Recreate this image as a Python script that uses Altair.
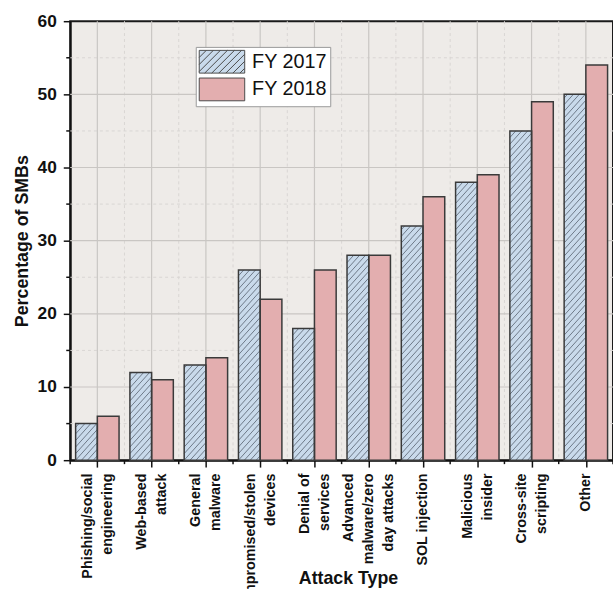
import altair as alt
import pandas as pd

# Attack types (| marks a line break in the axis label)
categories = [
    "Phishing/social|engineering",
    "Web-based|attack",
    "General|malware",
    "Compromised/stolen|devices",
    "Denial of|services",
    "Advanced|malware/zero|day attacks",
    "SOL injection",
    "Malicious|insider",
    "Cross-site|scripting",
    "Other",
]
series = ["FY 2017", "FY 2018"]
fy2017 = [5, 12, 13, 26, 18, 28, 32, 38, 45, 50]
fy2018 = [6, 11, 14, 22, 26, 28, 36, 39, 49, 54]

y_major = [10, 20, 30, 40, 50]
y_minor = [5, 15, 25, 35, 45, 55]

positions = list(range(1, len(categories) + 1))
x_minor = [p - 0.5 for p in positions] + [len(categories) + 0.5]

BLUE = "#C9DAEB"
PINK = "#E3AEAF"
EDGE = "#3a3a3a"
FONT = "Liberation Sans"
BAR_W = 0.4          # bar width in category units
HATCH_STEP = 0.9     # vertical spacing of hatch lines (percent units)
HATCH_RISE = 3.3     # rise of one hatch line across a bar (percent units)
LINE_H = 20          # line height of the wrapped category labels

rows = []
for i, cat in enumerate(categories):
    rows.append({"pos": positions[i], "series": series[0], "value": fy2017[i]})
    rows.append({"pos": positions[i], "series": series[1], "value": fy2018[i]})
bars_df = pd.DataFrame(rows)

# Legend symbols: a 2:1 rectangle (x from -1 to 3, y from -1 to 1), plain or hatched
RECT = "M-1,-1H3V1H-1Z"


def hatched_rect(step=0.62):
    parts = [RECT]
    c = -3.0
    while c < 3.0:
        x0 = max(c, -1.0)
        x1 = min(c + 2.0, 3.0)
        if x1 > x0:
            y0 = 1.0 - (x0 - c)
            y1 = 1.0 - (x1 - c)
            parts.append(f"M{x0:.3f},{y0:.3f}L{x1:.3f},{y1:.3f}")
        c += step
    return "".join(parts)


x_scale = alt.Scale(domain=[0.5, 10.5], nice=False, zero=False)
y_scale = alt.Scale(domain=[0, 60], nice=False)

label_array = "[" + ",".join(f"'{c}'" for c in categories) + "]"

# centre wrapped labels on their tick
offset_tests = []
for p, c in zip(positions, categories):
    n = c.count("|")
    if n:
        offset_tests.append({"test": f"datum.value == {p}", "value": -n * LINE_H / 2})

x_axis = alt.Axis(
    values=positions,
    labelExpr=f"split({label_array}[datum.value - 1], '|')",
    labelAngle=270,
    labelFont=FONT, labelFontSize=14.5, labelFontWeight="bold", labelColor="#111",
    labelLineHeight=LINE_H, labelPadding=6, labelFlush=False, labelOverlap=False, labelBound=False,
    labelOffset={"condition": offset_tests, "value": 0},
    tickSize=7, tickWidth=1.5, tickColor="#111",
    domainColor="#111", domainWidth=2,
    grid=False,
    title="Attack Type", titleFont=FONT, titleFontSize=18, titleFontWeight="bold", titleColor="#111",
    titleX=281, titleY=125, titleBaseline="alphabetic",
)
y_axis = alt.Axis(
    values=[0, 10, 20, 30, 40, 50, 60],
    labelFont=FONT, labelFontSize=17.5, labelFontWeight="bold", labelColor="#111", labelPadding=7,
    tickSize=7, tickWidth=1.5, tickColor="#111",
    domainColor="#111", domainWidth=2,
    grid=False,
    title="Percentage of SMBs", titleFont=FONT, titleFontSize=18, titleFontWeight="bold",
    titleColor="#111", titlePadding=6,
)

legend = alt.Legend(
    title=None, orient="none", legendX=127, legendY=26,
    padding=3, rowPadding=0, labelOffset=30,
    labelFont=FONT, labelFontSize=20, labelFontWeight="normal", labelColor="#111",
    fillColor="white", strokeColor="#9a9a9a",
    symbolSize=529, symbolOpacity=1, symbolStrokeWidth=1,
)
fill_scale = alt.Scale(domain=series, range=[BLUE, PINK])

# Grid lines
h_major = alt.Chart(pd.DataFrame({"v": y_major})).mark_rule(color="#C9C6C3", strokeWidth=1.2).encode(
    y=alt.Y("v:Q", scale=y_scale, axis=y_axis))
h_minor = alt.Chart(pd.DataFrame({"v": y_minor})).mark_rule(
    color="#D9D6D3", strokeWidth=1, strokeDash=[3, 3]).encode(y=alt.Y("v:Q", scale=y_scale))
v_major = alt.Chart(pd.DataFrame({"p": positions})).mark_rule(color="#C9C6C3", strokeWidth=1.2).encode(
    x=alt.X("p:Q", scale=x_scale, axis=x_axis))
v_minor = alt.Chart(pd.DataFrame({"p": x_minor[1:-1]})).mark_rule(
    color="#D9D6D3", strokeWidth=1, strokeDash=[3, 3]).encode(x=alt.X("p:Q", scale=x_scale))

# Minor ticks on both axes
y_ticks = alt.Chart(pd.DataFrame({"v": y_minor})).mark_rule(
    color="#111", strokeWidth=1.5, x2Offset=-4).encode(
    y=alt.Y("v:Q", scale=y_scale), x=alt.datum(0.5, scale=x_scale), x2=alt.datum(0.5))
x_ticks = alt.Chart(pd.DataFrame({"p": x_minor})).mark_rule(
    color="#111", strokeWidth=1.5, y2Offset=4).encode(
    x=alt.X("p:Q", scale=x_scale), y=alt.datum(0, scale=y_scale), y2=alt.datum(0))

base = alt.Chart(bars_df).transform_calculate(
    x0=f"datum.series == '{series[0]}' ? datum.pos - {BAR_W} : datum.pos",
    x1=f"datum.series == '{series[0]}' ? datum.pos : datum.pos + {BAR_W}",
)

bars = base.mark_rect().encode(
    x=alt.X("x0:Q", scale=x_scale),
    x2="x1:Q",
    y=alt.Y("value:Q", scale=y_scale),
    y2=alt.datum(0),
    fill=alt.Fill("series:N", scale=fill_scale, legend=legend),
)

# Diagonal hatching over the FY 2017 bars, clipped to each bar
hatch = alt.Chart(bars_df).transform_filter(
    alt.datum.series == series[0]
).transform_calculate(
    k=f"sequence(-5, ceil(datum.value / {HATCH_STEP}) + 1)"
).transform_flatten(["k"]).transform_calculate(
    y0=f"datum.k * {HATCH_STEP}"
).transform_calculate(
    ys="max(datum.y0, 0)",
    ye=f"min(datum.y0 + {HATCH_RISE}, datum.value)",
).transform_filter("datum.ys < datum.ye").transform_calculate(
    hx0=f"datum.pos - {BAR_W} + (datum.ys - datum.y0) / {HATCH_RISE} * {BAR_W}",
    hx1=f"datum.pos - {BAR_W} + (datum.ye - datum.y0) / {HATCH_RISE} * {BAR_W}",
).mark_rule(color="#56606e", strokeWidth=0.8).encode(
    x=alt.X("hx0:Q", scale=x_scale), x2="hx1:Q",
    y=alt.Y("ys:Q", scale=y_scale), y2="ye:Q",
)

outlines = base.mark_rect(fillOpacity=0, stroke=EDGE, strokeWidth=1.5).encode(
    x=alt.X("x0:Q", scale=x_scale),
    x2="x1:Q",
    y=alt.Y("value:Q", scale=y_scale),
    y2=alt.datum(0),
)

# invisible points that carry the legend symbols
legend_layer = alt.Chart(bars_df).mark_point(filled=True, opacity=0, size=529).encode(
    x=alt.X("pos:Q", scale=x_scale),
    y=alt.Y("value:Q", scale=y_scale),
    fill=alt.Fill("series:N", scale=fill_scale, legend=legend),
    shape=alt.Shape("series:N", scale=alt.Scale(domain=series, range=[hatched_rect(), RECT]),
                    legend=legend),
    stroke=alt.value("#4a4a4a"),
)

chart = alt.layer(
    h_minor, v_minor, h_major, v_major, bars, hatch, outlines, legend_layer, y_ticks, x_ticks
).properties(
    width=549, height=444,
    autosize=alt.AutoSizeParams(type="none"),
    padding={"left": 71, "top": 18, "right": 0, "bottom": 140},
    background="white",
).configure_view(
    fill="#EEEBE8", stroke="#1a1a1a", strokeWidth=2,
)

chart.save("out.html", embed_options={"renderer": "svg", "actions": False})
